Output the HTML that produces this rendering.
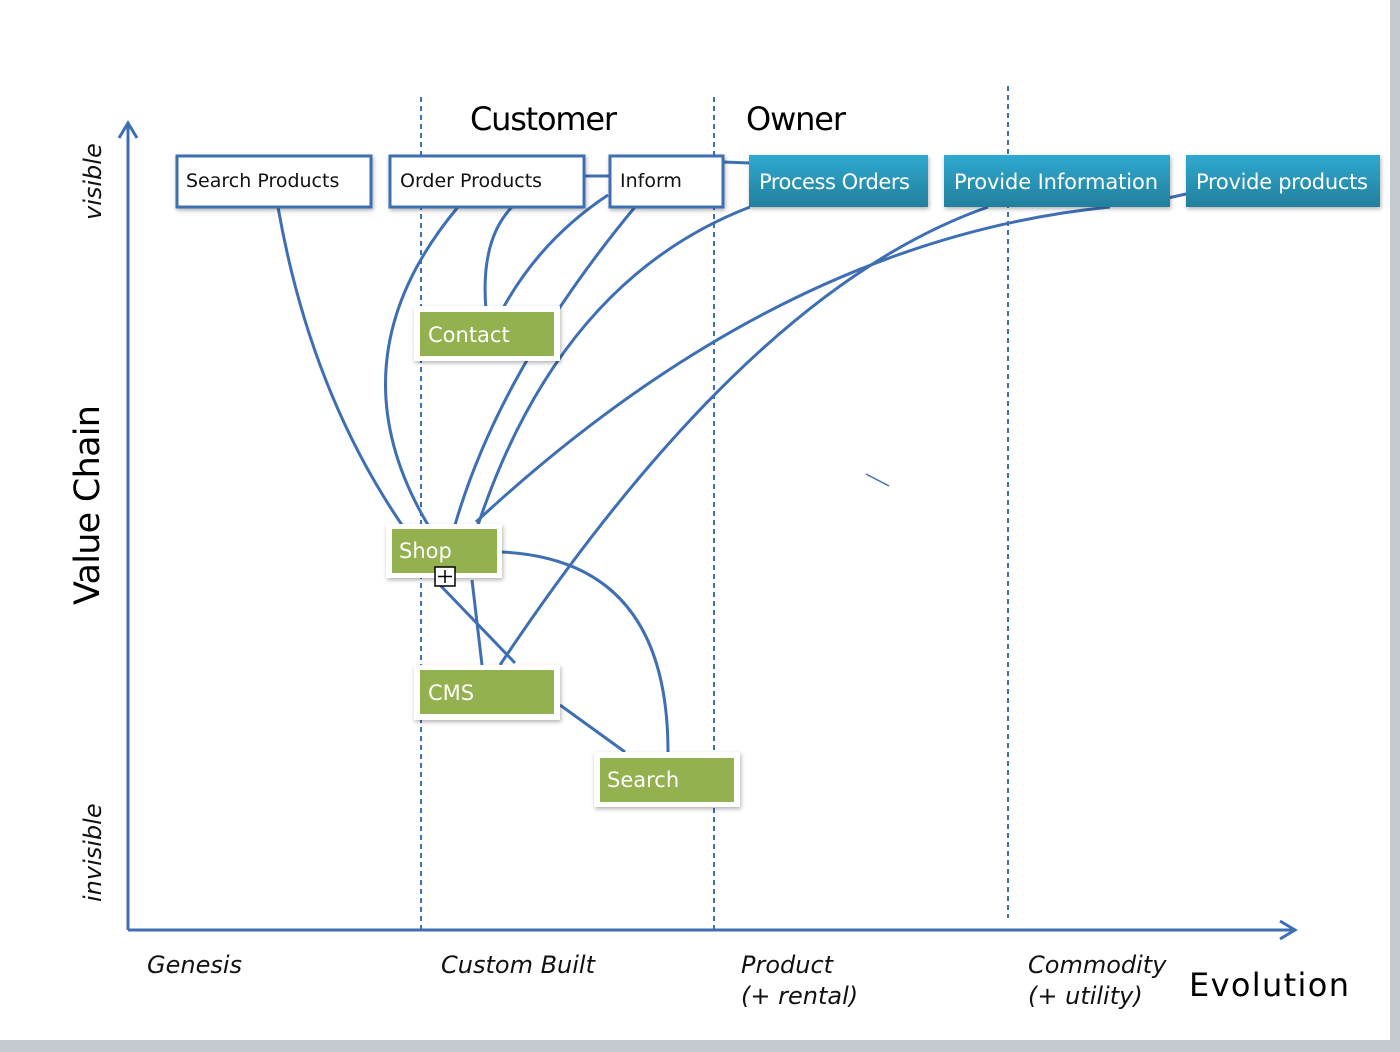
<!DOCTYPE html>
<html><head><meta charset="utf-8"><style>
html,body{margin:0;padding:0;background:#fff;}
svg{display:block;font-family:"DejaVu Sans","Liberation Sans",sans-serif;}
</style></head><body>
<svg width="1400" height="1052" viewBox="0 0 1400 1052">
<defs>
<linearGradient id="bl" x1="0" y1="0" x2="0" y2="1"><stop offset="0" stop-color="#2fa9cf"/><stop offset="1" stop-color="#237f9c"/></linearGradient>
<filter id="sh" x="-10%" y="-10%" width="130%" height="140%"><feDropShadow dx="1" dy="2" stdDeviation="2" flood-color="#000" flood-opacity="0.3"/></filter>
</defs>
<rect x="1390" y="0" width="10" height="1052" fill="#c4c8cf"/>
<rect x="0" y="1040" width="1400" height="12" fill="#c4c8cf"/>
<g stroke="#3e6fb3" stroke-width="2" stroke-dasharray="5,4">
<line x1="421" y1="97" x2="421" y2="930"/>
<line x1="714" y1="97" x2="714" y2="930"/>
<line x1="1008" y1="86" x2="1008" y2="918"/>
</g>
<g stroke="#3e6fb3" stroke-width="3" fill="none">
<line x1="128" y1="930" x2="128" y2="124"/>
<polyline points="119,138 128,123 137,138"/>
<line x1="128" y1="930" x2="1294" y2="930"/>
<polyline points="1280,921 1295,930 1280,939"/>
<path d="M278 207 Q310 390 402 525"/>
<path d="M458 207 Q330 360 428 525"/>
<path d="M512 207 Q480 240 486 310"/>
<path d="M608 195 Q540 240 502 310"/>
<path d="M635 207 Q500 370 455 525"/>
<path d="M750 207 Q560 280 478 525"/>
<path d="M988 207 Q750 290 500 665"/>
<path d="M1110 207 Q780 240 476 522"/>
<path d="M502 552 Q668 560 668 752"/>
<path d="M440 585 L515 663"/>
<path d="M560 705 L625 752"/>
<path d="M472 580 L482 665"/>
<path d="M585 176 L610 176"/>
<path d="M723 162 L750 163"/>
<path d="M1168 198 L1186 194"/>
<line x1="866" y1="474" x2="889" y2="486" stroke-width="1.5"/>
</g>
<g filter="url(#sh)">
<rect x="177" y="156" width="194" height="51" fill="#fff" stroke="#3e6fb3" stroke-width="3"/>
<rect x="390" y="156" width="194" height="51" fill="#fff" stroke="#3e6fb3" stroke-width="3"/>
<rect x="610" y="156" width="113" height="51" fill="#fff" stroke="#3e6fb3" stroke-width="3"/>
<rect x="749" y="155" width="179" height="52" fill="url(#bl)"/>
<rect x="944" y="155" width="226" height="52" fill="url(#bl)"/>
<rect x="1186" y="155" width="194" height="52" fill="url(#bl)"/>
<rect x="414" y="306" width="146" height="55" fill="#fff"/>
<rect x="386" y="524" width="116" height="54" fill="#fff"/>
<rect x="414" y="665" width="146" height="55" fill="#fff"/>
<rect x="594" y="752" width="146" height="55" fill="#fff"/>
</g>
<rect x="420" y="312" width="134" height="44" fill="#93b14e"/>
<rect x="392" y="529" width="105" height="44" fill="#93b14e"/>
<rect x="420" y="670" width="134" height="44" fill="#93b14e"/>
<rect x="600" y="758" width="134" height="44" fill="#93b14e"/>
<rect x="435" y="567" width="20" height="19" fill="#fff" stroke="#000" stroke-width="1.5"/>
<path d="M445 570 V583 M438 576.5 H452" stroke="#000" stroke-width="1.5"/>
<g font-size="19" fill="#111">
<text x="186" y="187">Search Products</text>
<text x="400" y="187">Order Products</text>
<text x="620" y="187">Inform</text>
</g>
<g font-size="21" fill="#fff">
<text x="759" y="189" textLength="151">Process Orders</text>
<text x="954" y="189" textLength="204">Provide Information</text>
<text x="1196" y="189" textLength="172">Provide products</text>
<text x="428" y="342">Contact</text>
<text x="399" y="558">Shop</text>
<text x="428" y="700">CMS</text>
<text x="607" y="787">Search</text>
</g>
<g font-size="32" fill="#000">
<text x="470" y="130" textLength="147">Customer</text>
<text x="746" y="130" textLength="100">Owner</text>
<text x="1189" y="996" textLength="160">Evolution</text>
<text transform="translate(99,605) rotate(-90)" font-size="35" textLength="200">Value Chain</text>
</g>
<g font-size="24" font-style="italic" fill="#111">
<text x="147" y="973">Genesis</text>
<text x="441" y="973">Custom Built</text>
<text x="741" y="973">Product</text>
<text x="741" y="1004">(+ rental)</text>
<text x="1028" y="973">Commodity</text>
<text x="1028" y="1004">(+ utility)</text>
<text transform="translate(101,220) rotate(-90)">visible</text>
<text transform="translate(101,902) rotate(-90)">invisible</text>
</g>
</svg>
</body></html>
